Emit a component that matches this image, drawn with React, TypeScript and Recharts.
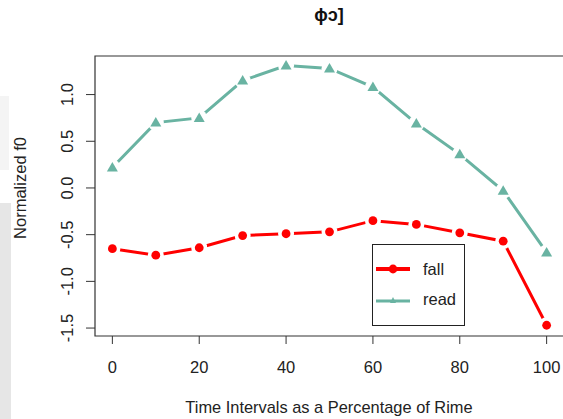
import { Legend, Line, LineChart, ReferenceArea, XAxis, YAxis } from "recharts";

// time points along the rime (%)
const timePct = [0, 10, 20, 30, 40, 50, 60, 70, 80, 90, 100];
// normalized f0 per condition
const fallF0 = [-0.65, -0.72, -0.64, -0.51, -0.49, -0.47, -0.35, -0.39, -0.48, -0.57, -1.47];
const readF0 = [0.22, 0.7, 0.75, 1.15, 1.31, 1.28, 1.08, 0.69, 0.36, -0.03, -0.69];

const xTicks = [0, 20, 40, 60, 80, 100];
const yTicks = [-1.5, -1, -0.5, 0, 0.5, 1];
const xDomain: [number, number] = [-4, 104];
const yDomain: [number, number] = [-1.585, 1.413];

const FALL = "#ff0000";
const READ = "#69b3a2";
const INK = "#222";
const FONT = '"Liberation Sans", Arial, sans-serif';

const data = timePct.map((t, i) => ({ t, fall: fallF0[i], read: readF0[i] }));

// R-style type="b": white halo under each marker so the line breaks around it
function FallDot(p: any) {
  if (p.cx == null || p.cy == null) return null;
  return (
    <g key={`fall-${p.index}`}>
      <circle cx={p.cx} cy={p.cy} r={8} fill="#fff" />
      <circle cx={p.cx} cy={p.cy} r={4.4} fill={FALL} />
    </g>
  );
}

function ReadDot(p: any) {
  if (p.cx == null || p.cy == null) return null;
  const { cx, cy } = p;
  const pts = `${cx - 5.5},${cy + 4} ${cx + 5.5},${cy + 4} ${cx},${cy - 5.5}`;
  return (
    <g key={`read-${p.index}`}>
      <circle cx={cx} cy={cy} r={8} fill="#fff" />
      <polygon points={pts} fill={READ} />
    </g>
  );
}

function YTick({ x, y, payload }: any) {
  return (
    <text
      x={x}
      y={y}
      transform={`rotate(-90 ${x} ${y})`}
      textAnchor="middle"
      fontSize={16.5}
      fill={INK}
      fontFamily={FONT}
    >
      {Number(payload.value).toFixed(1)}
    </text>
  );
}

function LegendBox() {
  return (
    <div
      style={{
        width: 93,
        height: 82,
        boxSizing: "border-box",
        border: "1px solid #222",
        background: "#fff",
        fontFamily: FONT,
        fontSize: 16.5,
        color: INK,
      }}
    >
      <div style={{ position: "absolute", left: 3, top: 17, display: "flex", alignItems: "center" }}>
        <svg width={36} height={14}>
          <line x1={1} y1={7} x2={35} y2={7} stroke={FALL} strokeWidth={4} />
          <circle cx={18} cy={7} r={4.4} fill={FALL} />
        </svg>
        <span style={{ marginLeft: 12, lineHeight: "16px" }}>fall</span>
      </div>
      <div style={{ position: "absolute", left: 3, top: 47, display: "flex", alignItems: "center" }}>
        <svg width={36} height={14}>
          <line x1={1} y1={9} x2={35} y2={9} stroke={READ} strokeWidth={3} />
          <polygon points="15,11 21,11 18,5" fill={READ} />
        </svg>
        <span style={{ marginLeft: 12, lineHeight: "16px" }}>read</span>
      </div>
    </div>
  );
}

export default function App() {
  return (
    <div
      style={{
        position: "absolute",
        left: 0,
        top: 0,
        width: 563,
        height: 419,
        overflow: "hidden",
        background: "#fff",
        fontFamily: FONT,
      }}
    >
      <div style={{ position: "absolute", left: 0, top: 203, width: 11, height: 216, background: "#e6e6e6" }} />
      <div style={{ position: "absolute", left: 0, top: 96, width: 9, height: 74, background: "#f4f4f4" }} />
      <LineChart width={566} height={419} data={data} margin={{ top: 56, right: 2, bottom: 0, left: 0 }}>
        <XAxis
          dataKey="t"
          type="number"
          domain={xDomain}
          ticks={xTicks}
          allowDataOverflow
          axisLine={false}
          tickSize={8}
          tickMargin={17}
          height={83}
          tickLine={{ stroke: "#333" }}
          tick={{ fontSize: 16.5, fill: INK, fontFamily: FONT }}
        />
        <YAxis
          type="number"
          domain={yDomain}
          ticks={yTicks}
          allowDataOverflow
          width={95}
          axisLine={false}
          tickSize={9}
          tickMargin={13}
          tickLine={{ stroke: "#333" }}
          tick={<YTick />}
        />
        <ReferenceArea
          x1={xDomain[0]}
          x2={xDomain[1]}
          y1={yDomain[0]}
          y2={yDomain[1]}
          fill="none"
          fillOpacity={0}
          stroke="#333"
          strokeWidth={1.2}
        />
        <Line
          dataKey="read"
          type="linear"
          stroke={READ}
          strokeWidth={3}
          dot={ReadDot}
          activeDot={false}
          isAnimationActive={false}
        />
        <Line
          dataKey="fall"
          type="linear"
          stroke={FALL}
          strokeWidth={3}
          dot={FallDot}
          activeDot={false}
          isAnimationActive={false}
        />
        <Legend
          layout="vertical"
          align="center"
          verticalAlign="middle"
          content={<LegendBox />}
          wrapperStyle={{ left: 372, top: 244, width: 93, height: 82 }}
        />
        <text x={329} y={21} textAnchor="middle" fontSize={18} fontWeight="bold" fill="#111" fontFamily={FONT}>
          ɸɔ]
        </text>
        <text x={329} y={413} textAnchor="middle" fontSize={16.4} fill={INK} fontFamily={FONT}>
          Time Intervals as a Percentage of Rime
        </text>
        <text
          x={26}
          y={188}
          transform="rotate(-90 26 188)"
          textAnchor="middle"
          fontSize={16.5}
          fill={INK}
          fontFamily={FONT}
        >
          Normalized f0
        </text>
      </LineChart>
    </div>
  );
}
